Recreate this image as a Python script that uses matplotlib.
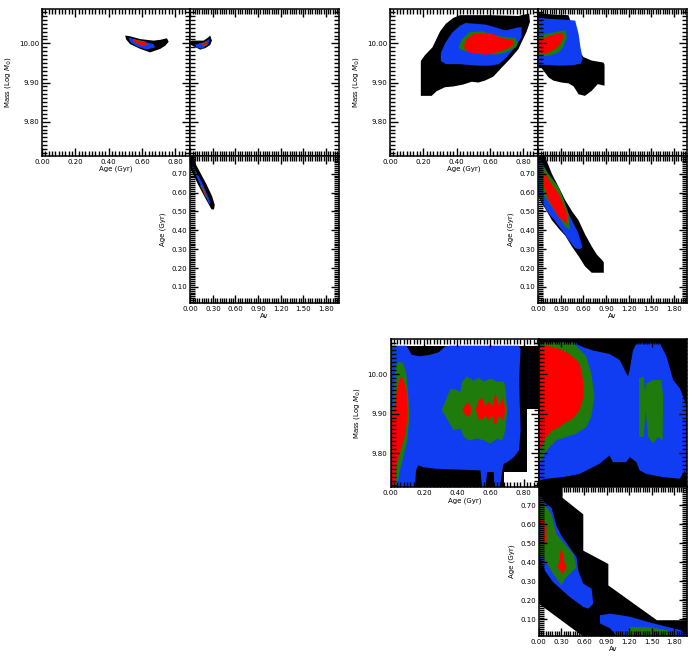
import matplotlib
matplotlib.use('Agg')
import matplotlib.pyplot as plt
from matplotlib.ticker import MultipleLocator, FormatStrFormatter

# contour colours, outermost level first
level_colors = ['#000000', '#103cf2', '#1f7b0c', '#ff0000']

# ---------------- run 1 ----------------
# age vs mass
p1_am_black = [(0.499, 10.02), (0.53, 10.018), (0.589, 10.011), (0.669, 10.007), (0.71, 10.009),
               (0.75, 10.013), (0.76, 10.004), (0.74, 9.994), (0.71, 9.986), (0.649, 9.977),
               (0.589, 9.986), (0.529, 9.998), (0.505, 10.01)]
p1_am_blue = [(0.519, 10.015), (0.589, 10.007), (0.669, 9.998), (0.679, 9.99), (0.629, 9.984),
              (0.569, 9.992), (0.529, 10.004)]
p1_am_green = [(0.545, 10.011), (0.62, 10.005), (0.635, 9.995), (0.6, 9.994), (0.555, 10.002)]
p1_am_red = [(0.549, 10.0095), (0.619, 10.0026), (0.629, 9.996), (0.589, 9.996), (0.559, 10.001)]
# av vs mass
p1_vm_black = [(0.0, 10.004), (0.022, 10.007), (0.1, 10.007), (0.176, 10.007), (0.23, 10.014),
               (0.265, 10.02), (0.287, 10.007), (0.265, 9.996), (0.2, 9.988), (0.132, 9.984),
               (0.07, 9.99), (0.02, 9.995), (0.0, 9.996)]
p1_vm_blue = [(0.066, 9.998), (0.176, 10.0026), (0.256, 10.011), (0.243, 9.998), (0.154, 9.986),
              (0.079, 9.99)]
p1_vm_green = [(0.15, 9.999), (0.23, 10.006), (0.22, 9.994), (0.165, 9.992)]
p1_vm_red = [(0.154, 9.998), (0.229, 10.004), (0.212, 9.996), (0.168, 9.994)]
# av vs age
p1_va_black = [(0.0, 0.80), (0.04, 0.795), (0.08, 0.745), (0.14, 0.70), (0.22, 0.64), (0.29, 0.58),
               (0.325, 0.535), (0.315, 0.51), (0.28, 0.512), (0.2, 0.57), (0.1, 0.645), (0.04, 0.695),
               (0.0, 0.73)]
p1_va_blue = [(0.03, 0.745), (0.08, 0.71), (0.16, 0.65), (0.24, 0.575), (0.27, 0.545), (0.25, 0.54),
              (0.18, 0.60), (0.1, 0.67), (0.05, 0.71), (0.02, 0.73)]
p1_va_green = [(0.15, 0.64), (0.2, 0.60), (0.22, 0.575), (0.205, 0.575), (0.16, 0.615), (0.13, 0.635)]
p1_va_red = [(0.155, 0.633), (0.2, 0.595), (0.215, 0.578), (0.205, 0.58), (0.16, 0.62), (0.14, 0.632)]

# ---------------- run 2 ----------------
p2_am_black = [(0.185, 9.955), (0.21, 9.97), (0.255, 9.99), (0.30, 10.03), (0.335, 10.05), (0.38, 10.065),
               (0.42, 10.072), (0.60, 10.072), (0.77, 10.07), (0.835, 10.076), (0.84, 10.055),
               (0.82, 10.03), (0.77, 9.985), (0.72, 9.96), (0.67, 9.938), (0.62, 9.915), (0.57, 9.905),
               (0.53, 9.90), (0.49, 9.902), (0.44, 9.895), (0.38, 9.89), (0.33, 9.888), (0.28, 9.878),
               (0.25, 9.866), (0.22, 9.866), (0.185, 9.866)]
p2_am_blue = [(0.305, 9.975), (0.33, 10.00), (0.374, 10.028), (0.42, 10.045), (0.454, 10.052),
              (0.573, 10.048), (0.64, 10.04), (0.693, 10.033), (0.76, 10.04), (0.79, 10.042),
              (0.79, 10.016), (0.76, 9.995), (0.733, 9.981), (0.69, 9.96), (0.653, 9.947), (0.60, 9.943),
              (0.534, 9.943), (0.47, 9.945), (0.414, 9.947), (0.335, 9.947), (0.305, 9.955)]
p2_am_green = [(0.41, 9.99), (0.43, 10.01), (0.474, 10.028), (0.553, 10.031), (0.62, 10.022),
               (0.673, 10.017), (0.753, 10.014), (0.765, 10.0), (0.755, 9.99), (0.70, 9.978),
               (0.653, 9.972), (0.60, 9.972), (0.534, 9.974), (0.47, 9.978), (0.42, 9.985)]
p2_am_red = [(0.444, 9.994), (0.46, 10.012), (0.504, 10.024), (0.613, 10.026), (0.653, 10.015),
             (0.733, 10.009), (0.745, 9.999), (0.72, 9.99), (0.673, 9.981), (0.62, 9.975),
             (0.573, 9.971), (0.52, 9.974), (0.474, 9.977), (0.45, 9.985)]
p2_vm_black = [(0.0, 10.078), (0.10, 10.075), (0.25, 10.073), (0.40, 10.072), (0.45, 10.045),
               (0.50, 10.02), (0.535, 10.0), (0.565, 9.975), (0.6, 9.965), (0.71, 9.956), (0.865, 9.951),
               (0.88, 9.945), (0.88, 9.892), (0.79, 9.896), (0.71, 9.879), (0.62, 9.866), (0.535, 9.87),
               (0.47, 9.89), (0.40, 9.898), (0.31, 9.90), (0.20, 9.905), (0.137, 9.913), (0.07, 9.93),
               (0.04, 9.938), (0.0, 9.94)]
p2_vm_blue = [(0.0, 10.065), (0.2, 10.062), (0.4, 10.06), (0.49, 10.058), (0.535, 10.024), (0.56, 9.99),
              (0.59, 9.96), (0.56, 9.948), (0.45, 9.944), (0.27, 9.943), (0.1, 9.945), (0.0, 9.945)]
p2_vm_green = [(0.0, 10.02), (0.09, 10.024), (0.2, 10.028), (0.357, 10.034), (0.38, 10.015),
               (0.33, 9.99), (0.27, 9.977), (0.18, 9.97), (0.09, 9.967), (0.0, 9.968)]
p2_vm_red = [(0.0, 10.008), (0.093, 10.015), (0.2, 10.022), (0.313, 10.028), (0.335, 10.015),
             (0.29, 9.998), (0.225, 9.986), (0.15, 9.978), (0.093, 9.973), (0.0, 9.977)]
p2_va_black = [(0.0, 0.80), (0.09, 0.79), (0.18, 0.70), (0.27, 0.63), (0.357, 0.56), (0.45, 0.50),
               (0.533, 0.454), (0.62, 0.38), (0.71, 0.314), (0.78, 0.27), (0.843, 0.244), (0.87, 0.23),
               (0.87, 0.175), (0.71, 0.175), (0.62, 0.209), (0.54, 0.26), (0.446, 0.314), (0.36, 0.37),
               (0.27, 0.41), (0.18, 0.454), (0.1, 0.51), (0.05, 0.542), (0.0, 0.58)]
p2_va_blue = [(0.0, 0.78), (0.03, 0.775), (0.1, 0.72), (0.18, 0.665), (0.27, 0.6), (0.357, 0.524),
              (0.45, 0.45), (0.533, 0.384), (0.586, 0.31), (0.55, 0.30), (0.49, 0.305), (0.4, 0.35),
              (0.313, 0.40), (0.22, 0.45), (0.136, 0.49), (0.05, 0.55), (0.0, 0.58)]
p2_va_green = [(0.03, 0.74), (0.07, 0.735), (0.17, 0.68), (0.27, 0.63), (0.34, 0.56), (0.40, 0.49),
               (0.42, 0.40), (0.357, 0.42), (0.27, 0.47), (0.18, 0.524), (0.1, 0.57), (0.03, 0.62)]
p2_va_red = [(0.08, 0.71), (0.15, 0.66), (0.27, 0.595), (0.33, 0.54), (0.38, 0.49), (0.38, 0.437),
             (0.33, 0.45), (0.27, 0.47), (0.18, 0.53), (0.115, 0.577), (0.07, 0.64)]

# ---------------- run 3 ----------------
p3_am_black = [(0.0, 10.072), (0.892, 10.072), (0.892, 9.911), (0.822, 9.911), (0.822, 9.752),
               (0.68, 9.752), (0.68, 9.71), (0.0, 9.71)]
p3_am_blue = [(0.0, 10.072), (0.096, 10.072), (0.127, 10.049), (0.177, 10.045), (0.237, 10.049),
              (0.288, 10.055), (0.328, 10.07), (0.358, 10.072), (0.771, 10.072), (0.781, 10.062),
              (0.771, 9.985), (0.781, 9.858), (0.771, 9.807), (0.741, 9.79), (0.70, 9.777),
              (0.68, 9.773), (0.67, 9.756), (0.656, 9.71), (0.624, 9.71), (0.62, 9.752), (0.58, 9.752),
              (0.57, 9.71), (0.55, 9.71), (0.54, 9.756), (0.419, 9.758), (0.278, 9.76), (0.197, 9.764),
              (0.167, 9.769), (0.153, 9.756), (0.147, 9.71), (0.0, 9.71)]
p3_am_green1 = [(0.03, 10.02), (0.045, 10.03), (0.075, 10.03), (0.095, 10.0), (0.107, 9.943),
                (0.113, 9.892), (0.101, 9.832), (0.077, 9.79), (0.056, 9.756), (0.036, 9.71),
                (0.0, 9.71), (0.0, 9.85), (0.02, 9.95)]
p3_am_green2 = [(0.308, 9.909), (0.358, 9.962), (0.378, 9.962), (0.419, 9.956), (0.429, 9.981),
                (0.459, 9.994), (0.499, 9.983), (0.529, 9.991), (0.56, 9.981), (0.60, 9.989),
                (0.64, 9.981), (0.68, 9.981), (0.69, 9.964), (0.70, 9.909), (0.69, 9.858),
                (0.67, 9.832), (0.64, 9.837), (0.60, 9.824), (0.56, 9.832), (0.52, 9.837),
                (0.47, 9.832), (0.44, 9.841), (0.419, 9.862), (0.378, 9.858)]
p3_am_red1 = [(0.067, 9.995), (0.085, 9.975), (0.097, 9.955), (0.101, 9.887), (0.087, 9.845),
              (0.056, 9.802), (0.036, 9.773), (0.026, 9.71), (0.0, 9.71), (0.0, 9.89), (0.026, 9.92),
              (0.036, 9.955), (0.05, 9.985)]
p3_am_red2 = [(0.43, 9.91), (0.455, 9.925), (0.475, 9.928), (0.485, 9.91), (0.475, 9.893), (0.455, 9.893)]
p3_am_red3 = [(0.51, 9.91), (0.53, 9.935), (0.55, 9.94), (0.57, 9.918), (0.59, 9.932), (0.61, 9.918),
              (0.63, 9.952), (0.65, 9.92), (0.675, 9.94), (0.69, 9.91), (0.675, 9.883), (0.65, 9.895),
              (0.63, 9.868), (0.61, 9.895), (0.59, 9.882), (0.57, 9.895), (0.55, 9.885), (0.53, 9.885)]
p3_vm_black = [(0.0, 10.09), (1.97, 10.09), (1.97, 9.71), (0.0, 9.71)]
p3_vm_blue = [(0.0, 10.08), (0.497, 10.08), (0.541, 10.072), (0.719, 10.06), (0.94, 10.051),
              (1.074, 10.036), (1.163, 10.002), (1.185, 9.994), (1.207, 10.011), (1.251, 10.06),
              (1.296, 10.078), (1.607, 10.078), (1.696, 10.045), (1.785, 9.985), (1.874, 9.964),
              (1.918, 9.943), (1.963, 9.917), (1.97, 9.73), (1.94, 9.756), (1.874, 9.735),
              (1.652, 9.739), (1.429, 9.747), (1.34, 9.756), (1.296, 9.777), (1.207, 9.79),
              (1.163, 9.777), (0.985, 9.777), (0.94, 9.794), (0.808, 9.773), (0.541, 9.747),
              (0.319, 9.739), (0.097, 9.735), (0.0, 9.73)]
p3_vm_green1 = [(0.0, 10.08), (0.452, 10.08), (0.497, 10.072), (0.63, 10.045), (0.697, 10.002),
                (0.74, 9.943), (0.697, 9.892), (0.63, 9.866), (0.497, 9.849), (0.363, 9.841),
                (0.23, 9.832), (0.141, 9.815), (0.075, 9.798), (0.03, 9.781), (0.0, 9.773)]
p3_vm_green2 = [(1.331, 9.99), (1.394, 9.994), (1.41, 9.956), (1.43, 9.977), (1.518, 9.985),
                (1.629, 9.985), (1.652, 9.943), (1.645, 9.832), (1.58, 9.841), (1.518, 9.824),
                (1.451, 9.841), (1.42, 9.909), (1.394, 9.841), (1.331, 9.841)]
p3_vm_red = [(0.0, 10.07), (0.097, 10.072), (0.274, 10.064), (0.408, 10.051), (0.541, 10.028),
             (0.586, 9.985), (0.595, 9.943), (0.541, 9.909), (0.452, 9.887), (0.363, 9.879),
             (0.274, 9.866), (0.185, 9.858), (0.097, 9.841), (0.053, 9.824), (0.0, 9.807)]
p3_va_black = [(0.0, 0.80), (0.316, 0.80), (0.316, 0.74), (0.591, 0.653), (0.591, 0.462),
               (0.924, 0.392), (0.924, 0.279), (1.569, 0.096), (1.97, 0.096), (1.97, 0.01),
               (0.591, 0.01), (0.0, 0.183)]
p3_va_blue1 = [(0.0, 0.75), (0.036, 0.745), (0.08, 0.713), (0.169, 0.688), (0.236, 0.592),
               (0.302, 0.54), (0.502, 0.427), (0.524, 0.357), (0.591, 0.288), (0.702, 0.262),
               (0.724, 0.183), (0.658, 0.157), (0.591, 0.166), (0.413, 0.218), (0.191, 0.296),
               (0.08, 0.357), (0.013, 0.427), (0.0, 0.44)]
p3_va_blue2 = [(0.813, 0.122), (0.947, 0.131), (1.213, 0.114), (1.524, 0.079), (1.88, 0.044),
               (1.97, 0.027), (1.97, 0.01), (1.036, 0.01), (0.947, 0.053), (0.813, 0.079)]
p3_va_green1 = [(0.0, 0.713), (0.08, 0.705), (0.169, 0.653), (0.236, 0.549), (0.458, 0.444),
                (0.502, 0.375), (0.347, 0.314), (0.302, 0.279), (0.191, 0.34), (0.08, 0.409),
                (0.0, 0.453)]
p3_va_green2 = [(1.169, 0.02), (1.213, 0.061), (1.436, 0.061), (1.702, 0.044), (1.836, 0.018),
                (1.836, 0.01), (1.169, 0.01)]
p3_va_red1 = [(0.0, 0.618), (0.058, 0.627), (0.102, 0.583), (0.102, 0.514), (0.058, 0.496), (0.0, 0.505)]
p3_va_red2 = [(0.29, 0.465), (0.31, 0.462), (0.34, 0.40), (0.369, 0.375), (0.316, 0.34),
              (0.245, 0.375), (0.27, 0.40)]

# (level, polygon) for each panel
runs = [
    dict(top=8.5, left=42, height=147.3,
         am=[(0, p1_am_black), (1, p1_am_blue), (2, p1_am_green), (3, p1_am_red)],
         vm=[(0, p1_vm_black), (1, p1_vm_blue), (2, p1_vm_green), (3, p1_vm_red)],
         va=[(0, p1_va_black), (1, p1_va_blue), (2, p1_va_green), (3, p1_va_red)]),
    dict(top=8.5, left=390, height=147.3,
         am=[(0, p2_am_black), (1, p2_am_blue), (2, p2_am_green), (3, p2_am_red)],
         vm=[(0, p2_vm_black), (1, p2_vm_blue), (2, p2_vm_green), (3, p2_vm_red)],
         va=[(0, p2_va_black), (1, p2_va_blue), (2, p2_va_green), (3, p2_va_red)]),
    dict(top=339, left=390.5, height=148.4,
         am=[(0, p3_am_black), (1, p3_am_blue), (2, p3_am_green1), (2, p3_am_green2),
             (3, p3_am_red1), (3, p3_am_red2), (3, p3_am_red3)],
         vm=[(0, p3_vm_black), (1, p3_vm_blue), (2, p3_vm_green1), (2, p3_vm_green2), (3, p3_vm_red)],
         va=[(0, p3_va_black), (1, p3_va_blue1), (1, p3_va_blue2), (2, p3_va_green1),
             (2, p3_va_green2), (3, p3_va_red1), (3, p3_va_red2)]),
]

age_lim = (0.0, 0.89)
mass_lim = (9.713, 10.089)
av_lim = (0.0, 1.97)
age2_lim = (0.014, 0.795)

W, H = 692, 656
PW = 148.3
fig = plt.figure(figsize=(W / 100, H / 100), dpi=100)
plt.rcParams['mathtext.fontset'] = 'dejavusans'


def add_ax(x, y, w, h):
    return fig.add_axes([x / W, 1 - (y + h) / H, w / W, h / H])


def style(ax, xmaj, xmin, ymaj, ymin, xlab, ylab):
    ax.xaxis.set_major_locator(MultipleLocator(xmaj))
    ax.xaxis.set_minor_locator(MultipleLocator(xmin))
    ax.yaxis.set_major_locator(MultipleLocator(ymaj))
    ax.yaxis.set_minor_locator(MultipleLocator(ymin))
    ax.xaxis.set_major_formatter(FormatStrFormatter('%.2f'))
    ax.yaxis.set_major_formatter(FormatStrFormatter('%.2f'))
    ax.tick_params(which='both', direction='in', top=True, right=True, width=1.0,
                   labelsize=5, pad=2, labelbottom=xlab, labelleft=ylab)
    ax.tick_params(which='major', length=5.5)
    ax.tick_params(which='minor', length=3.5)
    for s in ax.spines.values():
        s.set_linewidth(1.1)


def draw(ax, polys):
    for lev, poly in polys:
        xs = [p[0] for p in poly]
        ys = [p[1] for p in poly]
        ax.fill(xs, ys, color=level_colors[lev], lw=0)


for r in runs:
    x0, y0, h = r['left'], r['top'], r['height']
    a = add_ax(x0, y0, PW, h)
    draw(a, r['am'])
    a.set_xlim(*age_lim)
    a.set_ylim(*mass_lim)
    style(a, 0.2, 0.02, 0.1, 0.01, True, True)
    a.set_xlabel('Age (Gyr)', fontsize=5, labelpad=1)
    a.set_ylabel(r'Mass (Log $M_{\odot}$)', fontsize=5, labelpad=4)

    b = add_ax(x0 + PW, y0, PW, h)
    draw(b, r['vm'])
    b.set_xlim(*av_lim)
    b.set_ylim(*mass_lim)
    style(b, 0.3, 0.03, 0.1, 0.01, False, False)

    c = add_ax(x0 + PW, y0 + h, PW, h)
    draw(c, r['va'])
    c.set_xlim(*av_lim)
    c.set_ylim(*age2_lim)
    style(c, 0.3, 0.03, 0.1, 0.01, True, True)
    c.set_xlabel('Av', fontsize=5, labelpad=1)
    c.set_ylabel('Age (Gyr)', fontsize=5, labelpad=4)

fig.savefig('out.png', dpi=100)
